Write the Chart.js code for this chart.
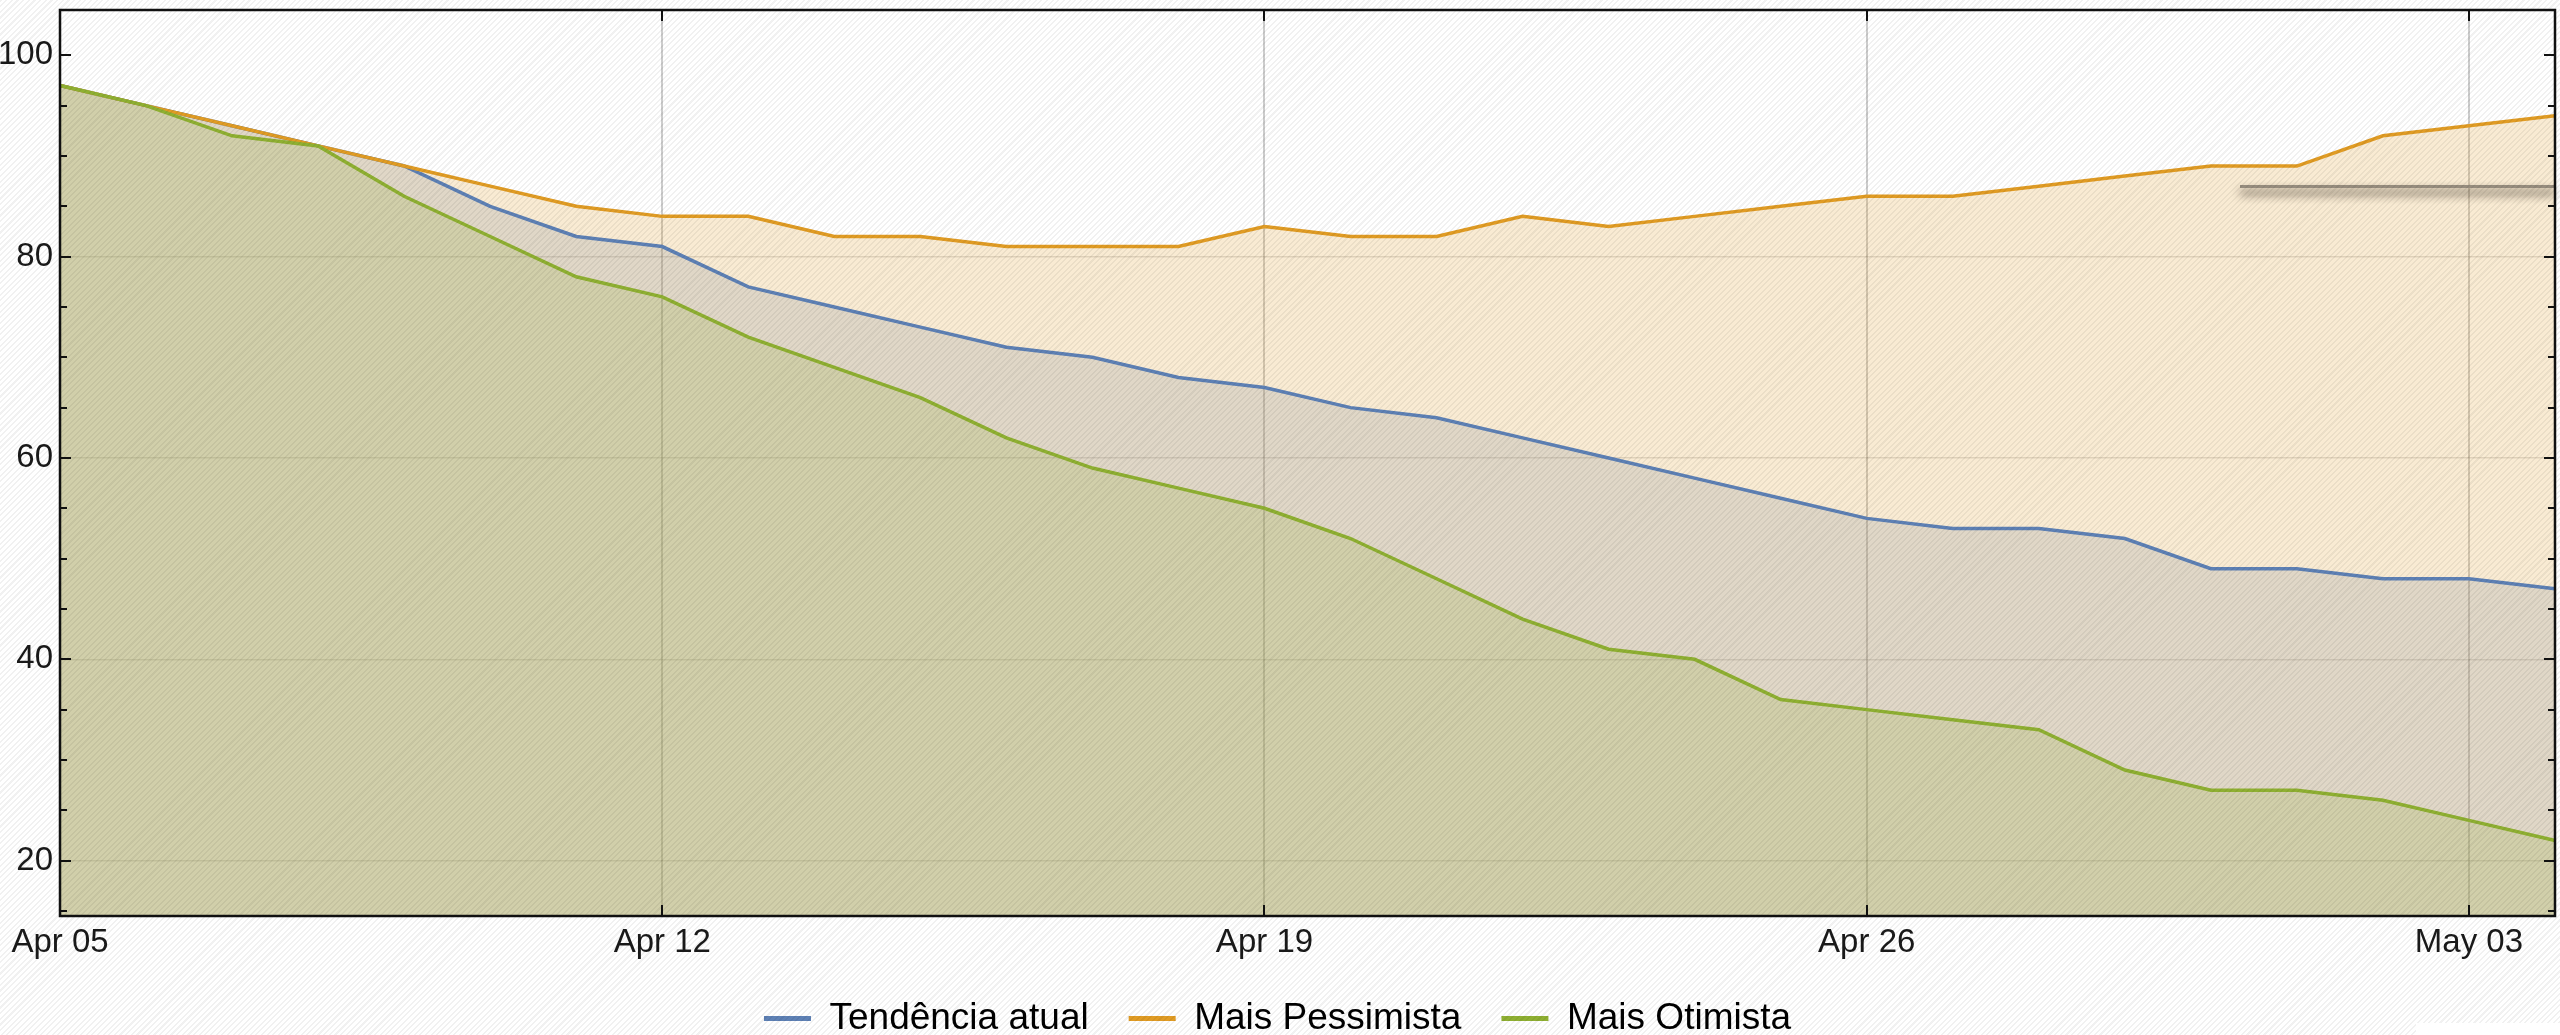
<!DOCTYPE html>
<html>
<head>
<meta charset="utf-8">
<script src="https://cdn.jsdelivr.net/npm/chart.js@4.4.1/dist/chart.umd.min.js"></script>
<style>
  html, body { margin: 0; padding: 0; background: #ffffff; }
  #wrap { position: relative; width: 2560px; height: 1035px; overflow: hidden; }
  #hatch {
    position: absolute; left: 0; top: 0; right: 0; bottom: 0; pointer-events: none;
    background: repeating-linear-gradient(135deg, rgba(0,0,0,0.055) 0px, rgba(0,0,0,0.055) 1.5px, rgba(0,0,0,0) 1.5px, rgba(0,0,0,0) 4px);
  }
  #corner { position: absolute; right: 0; bottom: 0; width: 144px; height: 12px; background: #fff; }
</style>
</head>
<body>
<div id="wrap">
  <canvas id="myChart" width="2560" height="1035"></canvas>
  <div id="hatch"></div>
  <div id="corner"></div>
</div>
<script>
  const labels = [
    'Apr 05', 'Apr 06', 'Apr 07', 'Apr 08', 'Apr 09', 'Apr 10', 'Apr 11',
    'Apr 12', 'Apr 13', 'Apr 14', 'Apr 15', 'Apr 16', 'Apr 17', 'Apr 18',
    'Apr 19', 'Apr 20', 'Apr 21', 'Apr 22', 'Apr 23', 'Apr 24', 'Apr 25',
    'Apr 26', 'Apr 27', 'Apr 28', 'Apr 29', 'Apr 30', 'May 01', 'May 02',
    'May 03', 'May 04',
  ];

  const tendencia = [97, 95, 93, 91, 89, 85, 82, 81, 77, 75, 73, 71, 70, 68, 67,
    65, 64, 62, 60, 58, 56, 54, 53, 53, 52, 49, 49, 48, 48, 47];
  const pessimista = [97, 95, 93, 91, 89, 87, 85, 84, 84, 82, 82, 81, 81, 81, 83,
    82, 82, 84, 83, 84, 85, 86, 86, 87, 88, 89, 89, 92, 93, 94];
  const otimista = [97, 95, 92, 91, 86, 82, 78, 76, 72, 69, 66, 62, 59, 57, 55,
    52, 48, 44, 41, 40, 36, 35, 34, 33, 29, 27, 27, 26, 24, 22];

  const yTicks = [20, 40, 60, 80, 100];
  const yMinorStep = 5;
  const weekStep = 7;

  const fontFamily = "'Liberation Sans', Arial, sans-serif";

  // frame around the plot, inward tick marks on all four sides, plus a drop-shadow strip
  const frameTicks = {
    id: 'frameTicks',
    afterDatasetsDraw(chart) {
      const { ctx, chartArea: a, scales: { x, y } } = chart;
      ctx.save();
      ctx.shadowColor = 'rgba(30,20,10,0.9)';
      ctx.shadowBlur = 10;
      ctx.shadowOffsetY = 6;
      ctx.fillStyle = '#978d7e';
      ctx.fillRect(2240, 185, a.right - 2240, 3);
      ctx.restore();

      ctx.save();
      ctx.strokeStyle = '#111';
      ctx.lineWidth = 2;
      ctx.beginPath();
      for (let v = yTicks[0] - yMinorStep; v <= yTicks[yTicks.length - 1]; v += yMinorStep) {
        const py = Math.round(y.getPixelForValue(v));
        const len = yTicks.includes(v) ? 11 : 7;
        ctx.moveTo(a.left, py); ctx.lineTo(a.left + len, py);
        ctx.moveTo(a.right, py); ctx.lineTo(a.right - len, py);
      }
      labels.forEach((d, i) => {
        if (i % weekStep) return;
        const px = Math.round(x.getPixelForValue(i));
        ctx.moveTo(px, a.bottom); ctx.lineTo(px, a.bottom - 11);
        ctx.moveTo(px, a.top); ctx.lineTo(px, a.top + 11);
      });
      ctx.stroke();
      ctx.lineWidth = 2.5;
      ctx.strokeRect(a.left, a.top, a.right - a.left, a.bottom - a.top);
      ctx.restore();
    }
  };

  const data = {
    labels: labels,
    datasets: [{
      label: 'Tendência atual',
      data: tendencia,
      borderColor: '#5E81B5',
      backgroundColor: 'rgba(94,129,181,0.2)',
      fill: 'start',
      order: 2,
    },
    {
      label: 'Mais Pessimista',
      data: pessimista,
      borderColor: '#E19C24',
      backgroundColor: 'rgba(225,156,36,0.2)',
      fill: 'start',
      order: 1,
    },
    {
      label: 'Mais Otimista',
      data: otimista,
      borderColor: '#8FB032',
      backgroundColor: 'rgba(143,176,50,0.2)',
      fill: 'start',
      order: 0,
    }]
  };

  const config = {
    type: 'line',
    data: data,
    options: {
      responsive: false,
      animation: false,
      layout: { padding: { top: 10, right: 5, left: 0, bottom: -12 } },
      elements: {
        line: { borderWidth: 3.5, tension: 0 },
        point: { radius: 0, hoverRadius: 0 },
      },
      plugins: {
        filler: { drawTime: 'beforeDatasetsDraw' },
        tooltip: { enabled: false },
        legend: {
          position: 'bottom',
          labels: {
            font: { family: fontFamily, size: 37 },
            color: '#1a1a1a',
            boxWidth: 47,
            boxHeight: 5,
            padding: 40,
            generateLabels: chart => chart.data.datasets.map((ds, i) => ({
              text: ds.label,
              fillStyle: ds.borderColor,
              strokeStyle: ds.borderColor,
              lineWidth: 0,
              hidden: false,
              datasetIndex: i,
            })),
            sort: (a, b) => a.datasetIndex - b.datasetIndex,
          }
        }
      },
      scales: {
        x: {
          type: 'category',
          offset: false,
          border: { display: false },
          grid: {
            drawTicks: false,
            lineWidth: 2,
            color: ctx => (ctx.index > 0 && ctx.index % weekStep === 0) ? 'rgba(0,0,0,0.2)' : 'rgba(0,0,0,0)',
          },
          ticks: {
            autoSkip: false,
            maxRotation: 0,
            padding: 7,
            color: '#1a1a1a',
            font: { family: fontFamily, size: 33 },
            callback: function (value, index) {
              return index % weekStep === 0 ? this.getLabelForValue(value) : '';
            },
          },
          afterFit: s => { s.height = 44; s.paddingLeft = 0; s.paddingRight = 0; },
        },
        y: {
          min: 14.5,
          max: 104.5,
          border: { display: false },
          grid: {
            drawTicks: false,
            lineWidth: 1.5,
            color: ctx => (ctx.tick && ctx.tick.value === 100) ? 'rgba(0,0,0,0)' : 'rgba(0,0,0,0.13)',
          },
          ticks: {
            padding: 7,
            color: '#1a1a1a',
            font: { family: fontFamily, size: 33 },
          },
          afterBuildTicks: s => { s.ticks = yTicks.map(v => ({ value: v })); },
          afterFit: s => { s.width = 60; s.paddingTop = 0; s.paddingBottom = 0; },
        }
      }
    },
    plugins: [frameTicks]
  };

  const myChart = new Chart(
    document.getElementById('myChart'),
    config
  );
</script>
</body>
</html>
